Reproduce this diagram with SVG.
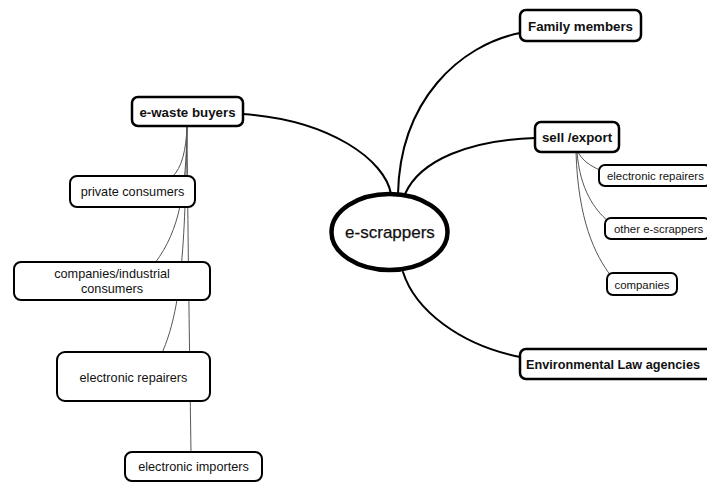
<svg xmlns="http://www.w3.org/2000/svg" width="707" height="485" viewBox="0 0 707 485">
  <style>
    .main { fill: none; stroke: #000; stroke-width: 2; stroke-linecap: round; }
    .sub { fill: none; stroke: #555; stroke-width: 1; }
    .box { fill: #fff; stroke: #000; stroke-width: 2.5; }
    .sbox { fill: #fff; stroke: #000; stroke-width: 2; }
    .t1 { font-family: "Liberation Sans", Arial, sans-serif; font-weight: bold; font-size: 13.3px; fill: #111; }
    .t2 { font-family: "Liberation Sans", Arial, sans-serif; font-size: 12.7px; fill: #111; }
    .t3 { font-family: "Liberation Sans", Arial, sans-serif; font-size: 11.4px; fill: #111; }
  </style>
  <rect width="707" height="485" fill="#fff"/>

  <g id="connectors">
    <!-- centre to first-level topics -->
    <path class="main" d="M243,114 C330,120 385,160 391,194"/>
    <path class="main" d="M398,194 C400,100 460,45 520,33"/>
    <path class="main" d="M405,194 C420,160 470,140 535,138"/>
    <path class="main" d="M403,272 C415,310 460,345 520,357"/>
    <!-- e-waste buyers branches -->
    <path class="sub" d="M187,127 C186,150 182,168 172,177"/>
    <path class="sub" d="M187,127 C186,190 180,230 155,263"/>
    <path class="sub" d="M187,127 C185,250 181,310 162,353"/>
    <path class="sub" d="M187,127 C188,250 190,380 191,453"/>
    <!-- sell /export branches -->
    <path class="sub" d="M578,152 C582,160 590,166 600,170"/>
    <path class="sub" d="M577,152 C580,190 595,210 608,221"/>
    <path class="sub" d="M576,152 C578,220 595,255 611,276"/>
  </g>

  <g id="e-scrappers">
    <ellipse cx="389.5" cy="232" rx="58" ry="38" fill="#fff" stroke="#000" stroke-width="4.5"/>
    <text x="390" y="238" text-anchor="middle" font-family="Liberation Sans, Arial, sans-serif" font-size="17" fill="#111" stroke="#111" stroke-width="0.25">e-scrappers</text>
  </g>

  <g id="e-waste-buyers">
    <rect class="box" x="132" y="97" width="111" height="29" rx="6"/>
    <text class="t1" x="187.5" y="116.5" text-anchor="middle">e-waste buyers</text>
  </g>

  <g id="family-members">
    <rect class="box" x="520" y="10" width="121" height="31" rx="6"/>
    <text class="t1" x="580.5" y="30.5" text-anchor="middle">Family members</text>
  </g>

  <g id="sell-export">
    <rect class="box" x="535" y="122" width="84" height="30" rx="6"/>
    <text class="t1" x="577" y="142" text-anchor="middle">sell /export</text>
  </g>

  <g id="environmental-law-agencies">
    <rect class="box" x="520" y="349" width="195" height="30" rx="6"/>
    <text class="t1" x="526" y="369" font-size="12.8" textLength="174" lengthAdjust="spacingAndGlyphs">Environmental Law agencies</text>
  </g>

  <g id="private-consumers">
    <rect class="sbox" x="70" y="176" width="125" height="31" rx="7"/>
    <text class="t2" x="132.5" y="196" text-anchor="middle">private consumers</text>
  </g>

  <g id="companies-industrial-consumers">
    <rect class="sbox" x="14" y="262" width="196" height="38" rx="7"/>
    <text class="t2" x="112" y="277.5" text-anchor="middle">companies/industrial</text>
    <text class="t2" x="112" y="293" text-anchor="middle">consumers</text>
  </g>

  <g id="electronic-repairers-buyer">
    <rect class="sbox" x="57" y="352" width="153" height="49" rx="8"/>
    <text class="t2" x="133.5" y="381.5" text-anchor="middle">electronic repairers</text>
  </g>

  <g id="electronic-importers">
    <rect class="sbox" x="125" y="452" width="137" height="29" rx="7"/>
    <text class="t2" x="193.5" y="471" text-anchor="middle">electronic importers</text>
  </g>

  <g id="electronic-repairers-export">
    <rect class="sbox" x="599" y="165" width="112" height="21" rx="6"/>
    <text class="t3" x="607" y="180">electronic repairers</text>
  </g>

  <g id="other-e-scrappers">
    <rect class="sbox" x="605" y="218" width="105" height="21" rx="6"/>
    <text class="t3" x="614" y="233">other e-scrappers</text>
  </g>

  <g id="companies">
    <rect class="sbox" x="607" y="273" width="70" height="22" rx="6"/>
    <text class="t3" x="642" y="288.5" text-anchor="middle">companies</text>
  </g>
</svg>
